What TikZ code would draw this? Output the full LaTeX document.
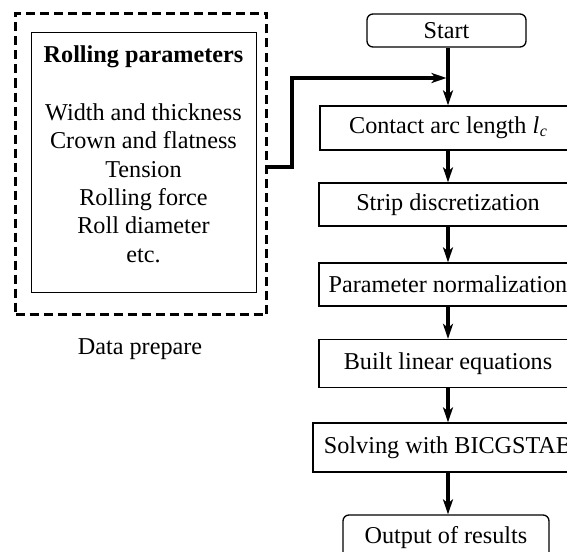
\documentclass[tikz,border=0pt]{standalone}
\usepackage{fontspec}
\setmainfont{Liberation Serif}
\usetikzlibrary{arrows.meta}
\begin{document}
\begin{tikzpicture}[x=1pt,y=-1pt,
  txt/.style={font=\fontsize{24.2}{28.4}\selectfont},
  procbox/.style={draw,line width=1.3pt,rectangle,inner sep=0pt,txt},
  termbox/.style={draw,line width=1.3pt,rectangle,rounded corners=6pt,inner sep=0pt,txt},
  flow/.style={line width=3.3pt,-{Stealth[length=15pt,width=10pt,inset=4pt]}}]
\useasboundingbox (0,0) rectangle (567,551);
\clip (0,0) rectangle (567,551);
% left group
\node[draw,line width=3pt,dash pattern=on 9pt off 5pt,minimum width=251pt,minimum height=301pt,inner sep=0pt] (dashbox) at (141,164) {};
\node[draw,line width=1pt,minimum width=225pt,minimum height=259pt,inner sep=0pt] (params) at (143.5,162.5) {};
\node[txt,font=\fontsize{24.2}{28.4}\selectfont\bfseries] (ptitle) at (143.5,57) {Rolling parameters};
\node[txt,align=center,anchor=north] (plist) at (143.5,100) {Width and thickness\\Crown and flatness\\Tension\\Rolling force\\Roll diameter\\etc.};
\node[txt] (dlabel) at (140,349) {Data prepare};
% flow
\node[termbox,minimum width=159pt,minimum height=33pt] (start) at (446.5,30.5) {Start};
\node[procbox,minimum width=256pt,minimum height=44pt] (contact) at (448,128) {Contact arc length \textit{l}\kern0.5pt\raisebox{-0.2ex}{\fontsize{16}{16}\selectfont\textit{c}}};
\node[procbox,minimum width=258pt,minimum height=43pt] (strip) at (448,204.5) {Strip discretization};
\node[procbox,minimum width=258pt,minimum height=43pt] (norm) at (448,284.5) {Parameter normalization};
\node[procbox,minimum width=258pt,minimum height=48pt] (built) at (448,363.5) {Built linear equations};
\node[procbox,minimum width=270pt,minimum height=49pt] (solve) at (448,447.5) {Solving with BICGSTAB};
\node[termbox,minimum width=206pt,minimum height=46pt] (output) at (446,538) {Output of results};
\coordinate (join) at (448,78);
\draw[line width=3.3pt] (start.south -| join) -- (join);
\draw[flow] (join) -- (join |- contact.north);
\draw[flow] (dashbox.east |- 0,167) -| (292,78) -- ([xshift=-1.5pt]join);
\draw[flow] (contact.south -| join) -- (strip.north -| join);
\draw[flow] (strip.south -| join) -- (norm.north -| join);
\draw[flow] (norm.south -| join) -- (built.north -| join);
\draw[flow] (built.south -| join) -- (solve.north -| join);
\draw[flow] (solve.south -| join) -- (output.north -| join);
\end{tikzpicture}
\end{document}
